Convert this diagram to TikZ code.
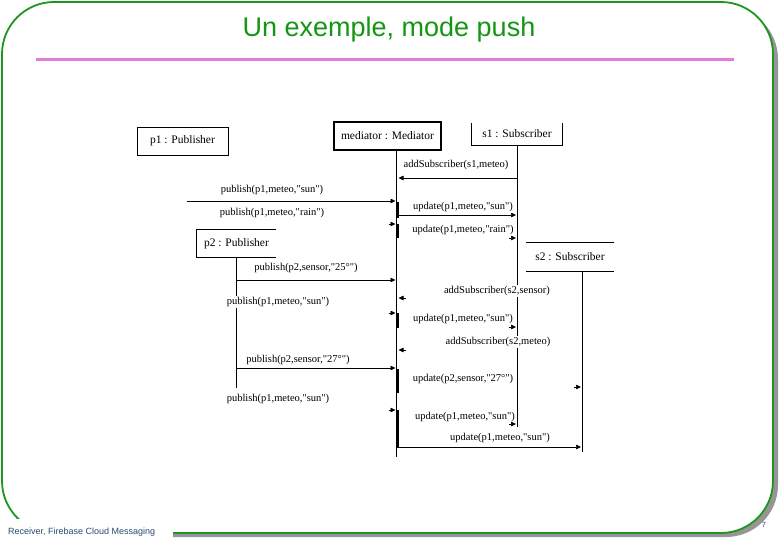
\documentclass[tikz,border=0pt]{standalone}
\usepackage{fontspec}
\setmainfont{Liberation Serif}[Ligatures=TeXOff]
\newfontfamily\sansf{Liberation Sans}
\usetikzlibrary{arrows.meta,calc}
\definecolor{framegreen}{RGB}{30,150,30}
\definecolor{titlegreen}{RGB}{20,150,20}
\definecolor{rulepink}{RGB}{225,125,215}
\definecolor{shadowgray}{RGB}{150,150,150}
\definecolor{footblue}{RGB}{40,75,115}
\begin{document}
\begin{tikzpicture}[x=1pt,y=-1pt,
  objbox/.style={inner sep=0pt, font=\fontsize{11.5}{13}\selectfont},
  lbl/.style={font=\fontsize{10.5}{12}\selectfont, fill=white, inner sep=0.8pt},
  life/.style={line width=0.7pt},
  msg/.style={line width=0.7pt, -{Triangle[length=5pt,width=4.5pt]}},
  actbar/.style={line width=2.6pt},
]
\useasboundingbox (0,0) rectangle (780,540);
% slide frame
\fill[shadowgray, rounded corners=52pt] (7,7) rectangle (778,537);
\filldraw[fill=white, draw=framegreen, line width=1.8pt, rounded corners=52pt] (2,2) rectangle (773,533);
\fill[white] (0,519) rectangle (173,540);
\node[anchor=west, font=\sansf\fontsize{9}{10}\selectfont, text=footblue, inner sep=0pt] (foot) at (8,532) {Receiver, Firebase Cloud Messaging};
\node[font=\sansf\fontsize{7.5}{8}\selectfont, text=footblue, inner sep=0pt] (pnum) at (764,525) {7};
% title
\node[font=\sansf\fontsize{27}{30}\selectfont, text=titlegreen, inner sep=0pt] (title) at (389,30) {Un exemple, mode push};
\draw[rulepink, line width=3pt] (36,60) -- (734,60);

% objects
\node[objbox, draw, line width=0.7pt, minimum width=91pt, minimum height=28pt] (p1) at (182.5,141) {p1 : Publisher};
\node[objbox, draw, line width=2.2pt, minimum width=107pt, minimum height=28pt] (med) at (387.5,136) {mediator : Mediator};
\node[objbox, minimum width=90pt, minimum height=22pt] (s1) at (517,134) {s1 : Subscriber};
\draw[life] (s1.north west) -- (s1.south west) -- (s1.south east) -- (s1.north east);
\node[objbox, minimum width=79pt, minimum height=27pt] (p2) at (236.5,243.5) {p2 : Publisher};
\draw[life] (p2.north east) -- (p2.north west) -- (p2.south west) -- (p2.south east);
\node[objbox, minimum width=88pt, minimum height=28pt] (s2) at (570,257) {s2 : Subscriber};
\draw[life] (s2.north west) -- (s2.north east);
\draw[life] (s2.south west) -- (s2.south east);

% lifelines
\coordinate (medtop) at (396.5,150);
\coordinate (medbot) at (396.5,457);
\coordinate (medbar) at (398,150);
\coordinate (s1bot) at (517,427);
\coordinate (s2top) at (582,271);
\coordinate (s2bot) at (582,452);
\coordinate (p2bot) at (236.5,388);
\coordinate (p1src) at (187,201);
\draw[life] (medtop) -- (medbot);
\draw[life] (s1.south) -- (s1bot);
\draw[life] (s2top) -- (s2bot);
\draw[life] (p2.south) -- (p2bot);

% activation bars
\foreach \a/\b in {202/218, 224/238, 313/328, 369/393, 410/447}
  \draw[actbar] (medbar |- 0,\a) -- (medbar |- 0,\b);

% messages with full lines
\draw[msg] (s1 |- 0,178) -- ($(medtop |- 0,178)+(2,0)$);
\node[lbl] (m1) at (456,165) {addSubscriber(s1,meteo)};
\draw[msg] (p1src) -- ($(medtop |- 0,201)+(-1,0)$);
\node[lbl] (m2) at (272,190) {publish(p1,meteo,"sun")};
\node[lbl] (m3) at (272,213) {publish(p1,meteo,"rain")};
\draw[msg] (medtop |- 0,215) -- ($(s1 |- 0,215)+(-1,0)$);
\node[lbl] (m4) at (463,207) {update(p1,meteo,"sun")};
\node[lbl] (m5) at (463,230) {update(p1,meteo,"rain")};
\draw[msg] (p2 |- 0,280) -- ($(medtop |- 0,280)+(-1,0)$);
\node[lbl] (m6) at (306,268) {publish(p2,sensor,"25°")};
\node[lbl] (m7) at (497,291) {addSubscriber(s2,sensor)};
\node[lbl] (m8) at (278,302) {publish(p1,meteo,"sun")};
\node[lbl] (m9) at (463,319) {update(p1,meteo,"sun")};
\node[lbl] (m10) at (498,342) {addSubscriber(s2,meteo)};
\draw[msg] (p2 |- 0,368) -- ($(medtop |- 0,368)+(-1,0)$);
\node[lbl] (m11) at (298,360) {publish(p2,sensor,"27°")};
\node[lbl] (m12) at (463,379) {update(p2,sensor,"27°")};
\node[lbl] (m13) at (278,399) {publish(p1,meteo,"sun")};
\node[lbl] (m14) at (465,417) {update(p1,meteo,"sun")};
\draw[msg] (medtop |- 0,447) -- ($(s2top |- 0,447)+(-1,0)$);
\node[lbl] (m15) at (500,438) {update(p1,meteo,"sun")};

% messages whose lines are lost: arrow heads only
\foreach \y in {224, 313, 410}
  \draw[msg] ($(medtop |- 0,\y)+(-8,0)$) -- ($(medtop |- 0,\y)+(-1,0)$);
\foreach \y in {298, 350}
  \draw[msg] ($(medtop |- 0,\y)+(9,0)$) -- ($(medtop |- 0,\y)+(2,0)$);
\foreach \y in {238, 327, 424}
  \draw[msg] ($(s1 |- 0,\y)+(-8,0)$) -- ($(s1 |- 0,\y)+(-1,0)$);
\draw[msg] ($(s2top |- 0,387)+(-8,0)$) -- ($(s2top |- 0,387)+(-1,0)$);
\end{tikzpicture}
\end{document}
